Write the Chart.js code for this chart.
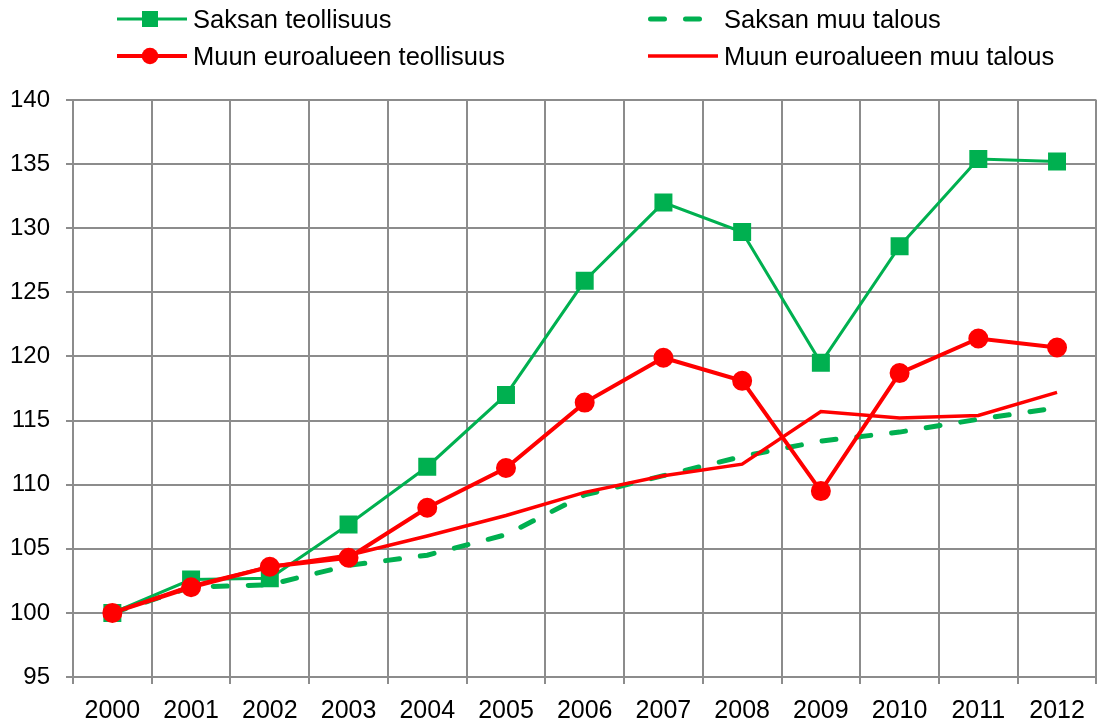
<!DOCTYPE html>
<html>
<head>
<meta charset="utf-8">
<script src="https://cdn.jsdelivr.net/npm/chart.js@4/dist/chart.umd.min.js"></script>
<style>
  body { margin: 0; overflow: hidden; background: #fff; font-family: "Liberation Sans", Arial, sans-serif; }
  #wrap { position: absolute; left: 0; top: 0; width: 1110px; height: 722px; }
  #legend { position: absolute; left: 0; top: 0; width: 1098px; height: 80px; }
  .item { position: absolute; display: flex; align-items: center; height: 30px; font-size: 25.5px; color: #000; white-space: nowrap; }
  .item svg { margin-right: 6px; flex: none; }
</style>
</head>
<body>
<div id="wrap"><canvas id="chart" width="1110" height="722"></canvas></div>
<div id="legend"></div>
<script>
const years = ['2000', '2001', '2002', '2003', '2004', '2005', '2006', '2007', '2008', '2009', '2010', '2011', '2012'];

const saksanTeollisuus = [100, 102.6, 102.7, 106.9, 111.4, 117.0, 125.9, 132.0, 129.7, 119.5, 128.6, 135.4, 135.2];
const saksanMuuTalous = [100, 102.0, 102.2, 103.7, 104.5, 106.1, 109.2, 110.7, 112.2, 113.4, 114.1, 115.1, 116.0];
const euroTeollisuus = [100, 102.0, 103.6, 104.3, 108.2, 111.3, 116.4, 119.9, 118.1, 109.5, 118.7, 121.4, 120.7];
const euroMuuTalous = [100, 102.1, 103.6, 104.5, 106.0, 107.6, 109.4, 110.7, 111.6, 115.7, 115.2, 115.4, 117.2];

const green = '#00b050';
const red = '#ff0000';
const gridColor = '#8c8c8c';

const datasets = [
  {
    label: 'Saksan teollisuus', data: saksanTeollisuus, order: 2,
    borderColor: green, backgroundColor: green, borderWidth: 3,
    pointStyle: 'rect', pointRadius: 10.6, pointHoverRadius: 10.6
  },
  {
    label: 'Saksan muu talous', data: saksanMuuTalous, order: 3,
    borderColor: green, backgroundColor: green, borderWidth: 5,
    borderDash: [14, 21], borderCapStyle: 'round', pointRadius: 0
  },
  {
    label: 'Muun euroalueen teollisuus', data: euroTeollisuus, order: 0,
    borderColor: red, backgroundColor: red, borderWidth: 4,
    pointStyle: 'circle', pointRadius: 8, pointHoverRadius: 8
  },
  {
    label: 'Muun euroalueen muu talous', data: euroMuuTalous, order: 1,
    borderColor: red, backgroundColor: red, borderWidth: 3.5, pointRadius: 0
  }
];

const chart = new Chart(document.getElementById('chart'), {
  type: 'line',
  data: { labels: years, datasets: datasets },
  options: {
    responsive: false,
    animation: false,
    devicePixelRatio: 1,
    layout: { padding: { top: 100, right: 6, bottom: 0, left: 0 } },
    plugins: { legend: { display: false }, tooltip: { enabled: false } },
    elements: { line: { tension: 0 } },
    scales: {
      x: {
        offset: true,
        grid: { offset: true, color: gridColor, lineWidth: 2, tickLength: 7 },
        border: { color: gridColor, width: 2 },
        ticks: { color: '#000', padding: 12, font: { family: 'Liberation Sans', size: 25 }, maxRotation: 0 },
        afterFit: (scale) => { scale.height = 45; }
      },
      y: {
        min: 95, max: 140,
        grid: { color: gridColor, lineWidth: 2, tickLength: 7 },
        border: { color: gridColor, width: 2 },
        ticks: { stepSize: 5, color: '#000', padding: 16, font: { family: 'Liberation Sans', size: 24 } },
        afterFit: (scale) => { scale.width = 73; }
      }
    }
  }
});

// legend in two columns, built from the datasets
const legendPos = [
  { x: 117, y: 4 }, { x: 648, y: 4 },
  { x: 117, y: 41 }, { x: 648, y: 41 }
];
const legend = document.getElementById('legend');
chart.data.datasets.forEach((ds, i) => {
  const item = document.createElement('div');
  item.className = 'item';
  item.style.left = legendPos[i].x + 'px';
  item.style.top = legendPos[i].y + 'px';
  let marker = '';
  if (ds.pointRadius > 0 && ds.pointStyle === 'rect') {
    marker = `<rect x="25" y="7" width="16" height="16" fill="${ds.borderColor}"/>`;
  } else if (ds.pointRadius > 0) {
    marker = `<circle cx="33" cy="15" r="8.3" fill="${ds.borderColor}"/>`;
  }
  const dash = ds.borderDash ? `stroke-dasharray="${ds.borderDash.join(' ')}" stroke-linecap="round"` : '';
  const x1 = ds.borderDash ? 2.5 : 0;
  item.innerHTML = `<svg width="70" height="30"><line x1="${x1}" y1="15" x2="70" y2="15" stroke="${ds.borderColor}" stroke-width="${ds.borderWidth}" ${dash}/>${marker}</svg><span>${ds.label}</span>`;
  legend.appendChild(item);
});
</script>
</body>
</html>
